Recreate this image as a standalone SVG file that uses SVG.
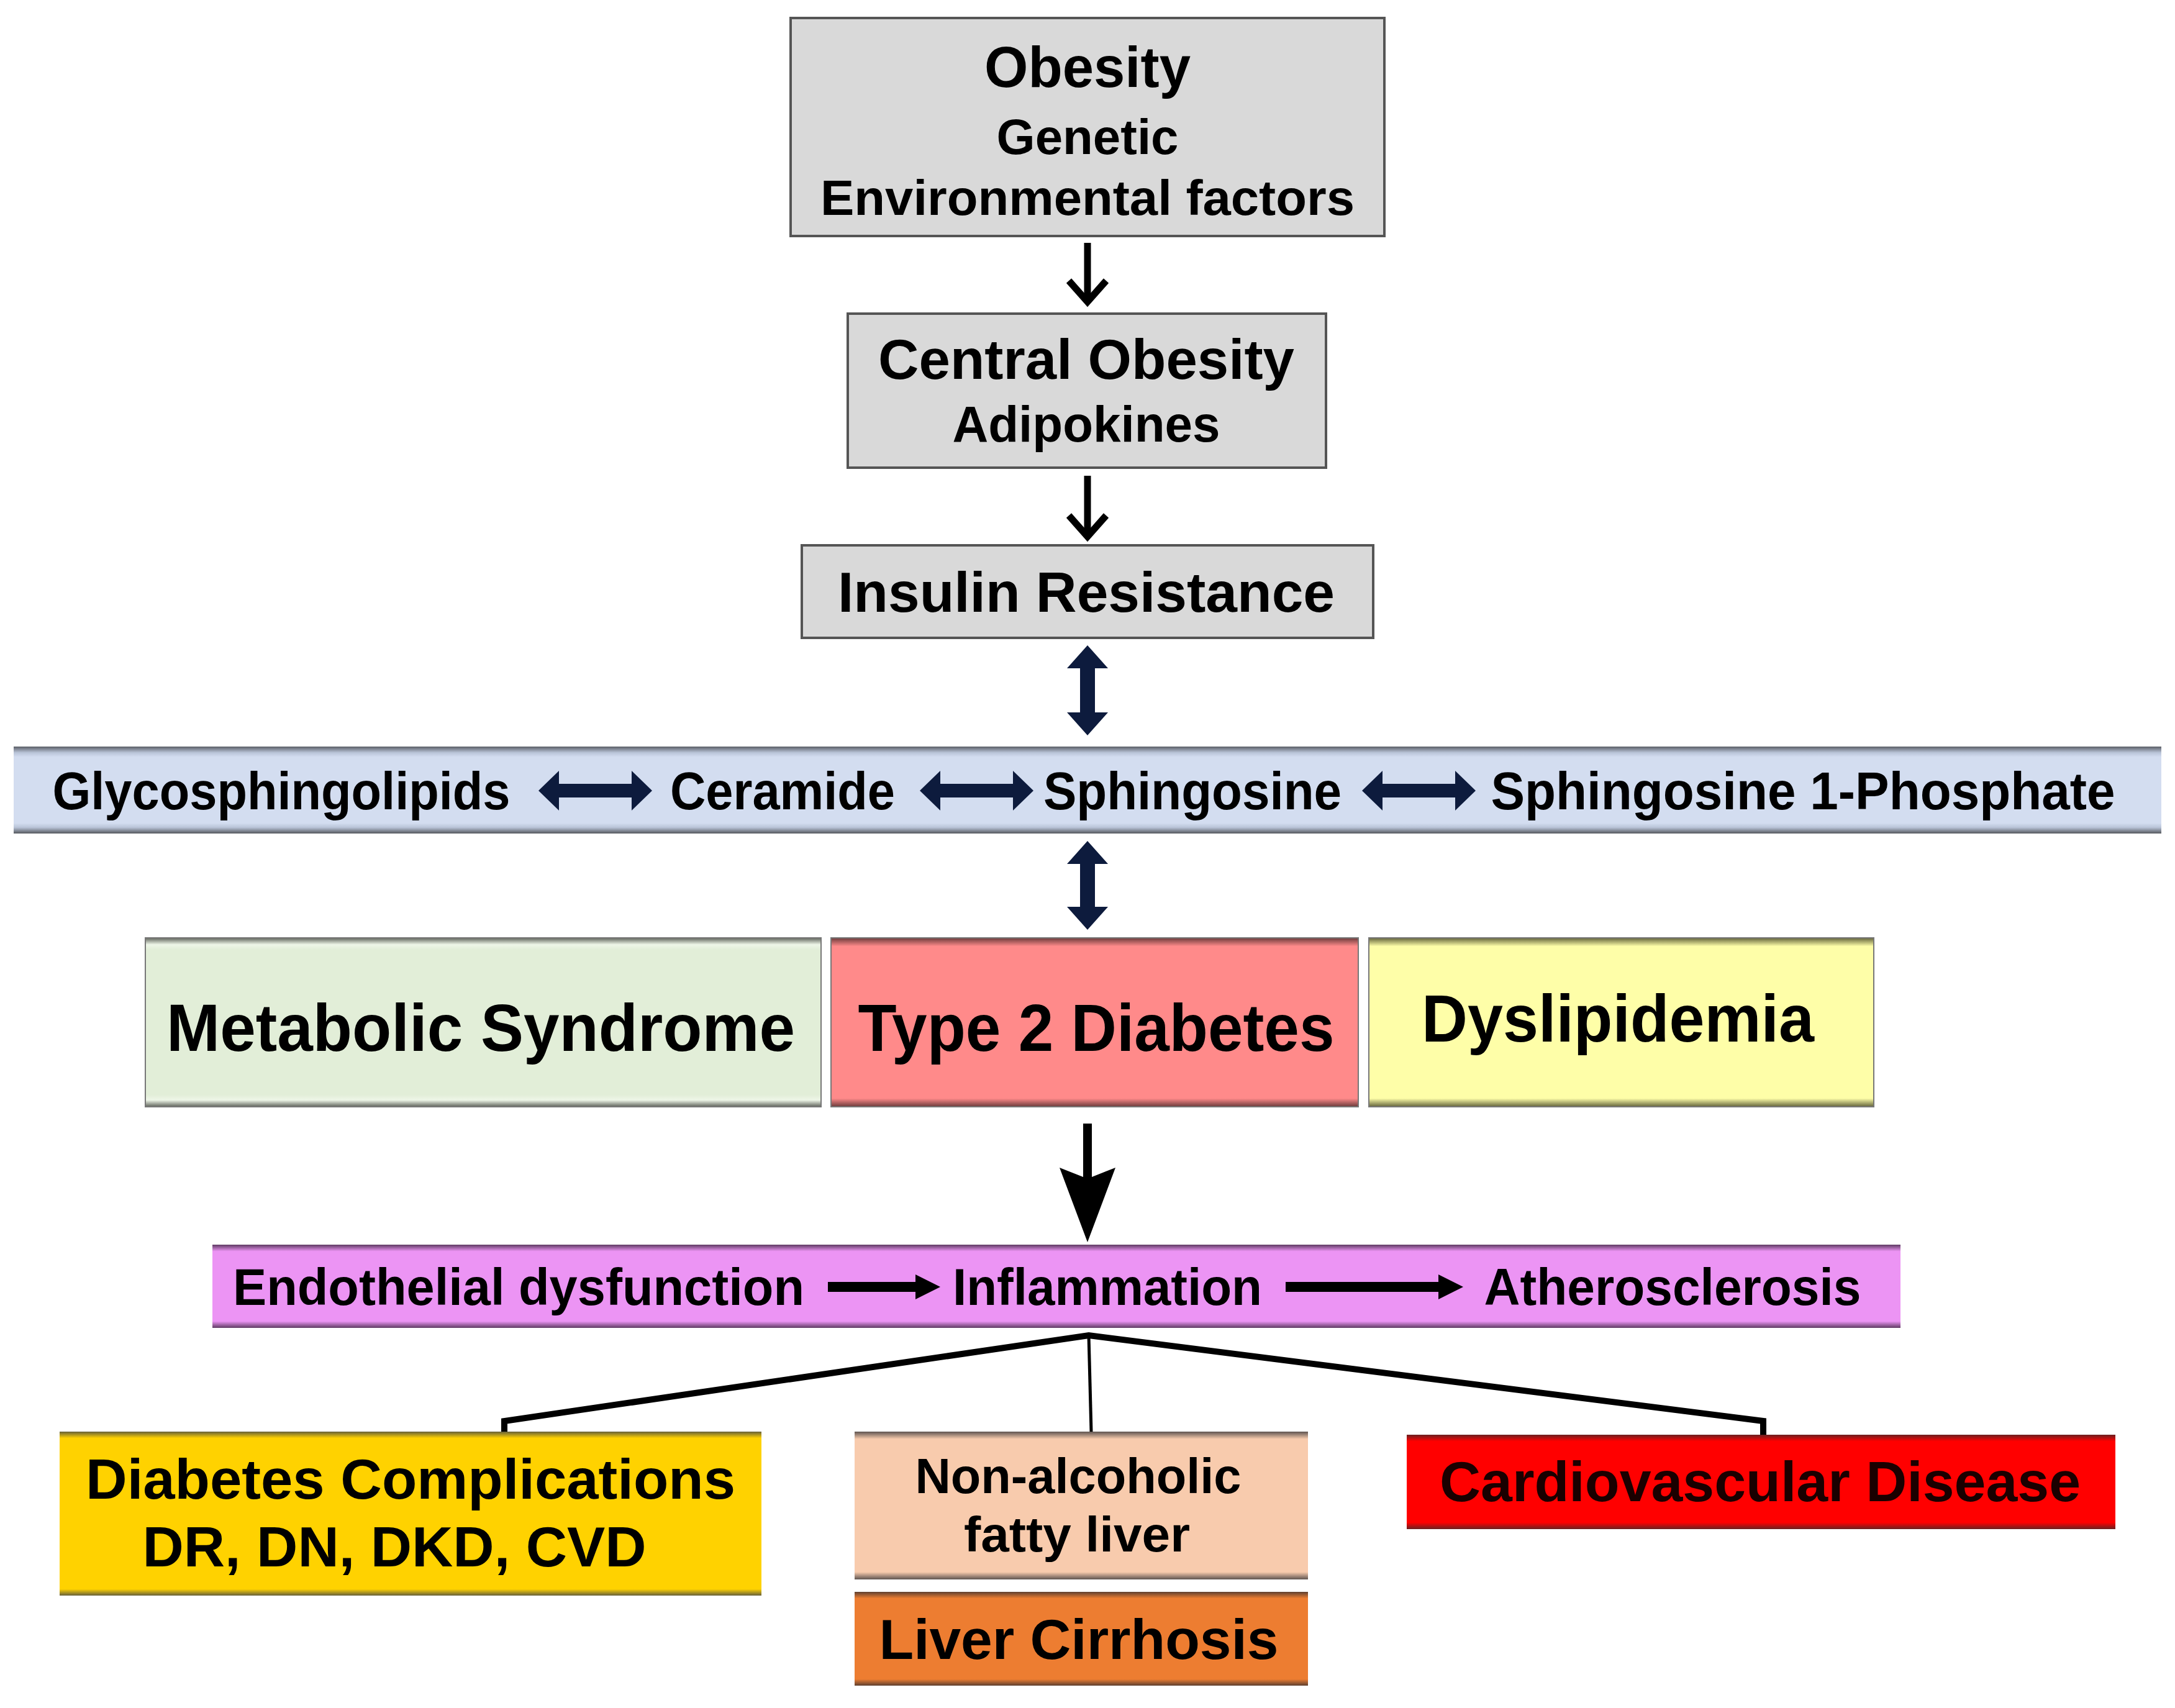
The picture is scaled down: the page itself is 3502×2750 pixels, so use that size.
<svg xmlns="http://www.w3.org/2000/svg" width="3502" height="2750" viewBox="0 0 3502 2750">
<style>
text{font-family:"Liberation Sans",Arial,sans-serif;font-weight:bold;fill:#000;text-anchor:middle}
.gray{fill:#d9d9d9;stroke:#555;stroke-width:4}
.thin{fill:none;stroke:#000;stroke-width:11}
.tree{fill:none;stroke:#000;stroke-width:10}
.navy{fill:#0d1b3d}
.blk{fill:#000}
</style>
<defs>
<linearGradient id="gBlue" x1="0" y1="0" x2="0" y2="1"><stop offset="0" stop-color="#5a5e66"/><stop offset="0.07" stop-color="#b9c4d8"/><stop offset="0.12" stop-color="#d3ddf0"/><stop offset="0.88" stop-color="#d3ddf0"/><stop offset="0.93" stop-color="#b9c4d8"/><stop offset="1" stop-color="#55585e"/></linearGradient>
<linearGradient id="gGreen" x1="0" y1="0" x2="0" y2="1"><stop offset="0" stop-color="#5e625a"/><stop offset="0.04" stop-color="#eef6e8"/><stop offset="0.07" stop-color="#e2eed8"/><stop offset="0.93" stop-color="#e2eed8"/><stop offset="0.96" stop-color="#eef6e8"/><stop offset="1" stop-color="#5e625a"/></linearGradient>
<linearGradient id="gPink" x1="0" y1="0" x2="0" y2="1"><stop offset="0" stop-color="#6a3a3a"/><stop offset="0.05" stop-color="#ff8a8a"/><stop offset="0.95" stop-color="#ff8a8a"/><stop offset="1" stop-color="#6a3a3a"/></linearGradient>
<linearGradient id="gYellow" x1="0" y1="0" x2="0" y2="1"><stop offset="0" stop-color="#62623a"/><stop offset="0.05" stop-color="#fefea8"/><stop offset="0.95" stop-color="#fefea8"/><stop offset="1" stop-color="#62623a"/></linearGradient>
<linearGradient id="gViolet" x1="0" y1="0" x2="0" y2="1"><stop offset="0" stop-color="#5e3a62"/><stop offset="0.08" stop-color="#ec94f4"/><stop offset="0.92" stop-color="#ec94f4"/><stop offset="1" stop-color="#5e3a62"/></linearGradient>
<linearGradient id="gGold" x1="0" y1="0" x2="0" y2="1"><stop offset="0" stop-color="#66603a"/><stop offset="0.04" stop-color="#ffd200"/><stop offset="0.96" stop-color="#ffd200"/><stop offset="1" stop-color="#66603a"/></linearGradient>
<linearGradient id="gPeach" x1="0" y1="0" x2="0" y2="1"><stop offset="0" stop-color="#5e5450"/><stop offset="0.05" stop-color="#f8cbad"/><stop offset="0.95" stop-color="#f8cbad"/><stop offset="1" stop-color="#5e5450"/></linearGradient>
<linearGradient id="gOrange" x1="0" y1="0" x2="0" y2="1"><stop offset="0" stop-color="#5e4030"/><stop offset="0.07" stop-color="#ed7d31"/><stop offset="0.93" stop-color="#ed7d31"/><stop offset="1" stop-color="#5e4030"/></linearGradient>
<linearGradient id="gRed" x1="0" y1="0" x2="0" y2="1"><stop offset="0" stop-color="#6a2020"/><stop offset="0.07" stop-color="#ff0000"/><stop offset="0.93" stop-color="#ff0000"/><stop offset="1" stop-color="#6a2020"/></linearGradient>
<marker id="vhead" markerUnits="userSpaceOnUse" markerWidth="80" markerHeight="80" refX="40" refY="40" orient="auto" viewBox="0 0 80 80">
<path d="M6,10 L40,40 L6,70" fill="none" stroke="#000" stroke-width="11"/>
</marker>
</defs>
<rect width="3502" height="2750" fill="#fff"/>

<g id="obesity">
<rect class="gray" x="1273" y="29" width="956" height="351"/>
<text x="1751" y="140" font-size="92" textLength="332" lengthAdjust="spacingAndGlyphs">Obesity</text>
<text x="1751" y="248" font-size="80" textLength="293" lengthAdjust="spacingAndGlyphs">Genetic</text>
<text x="1751" y="346" font-size="80" textLength="860" lengthAdjust="spacingAndGlyphs">Environmental factors</text>
</g>
<g id="central-obesity">
<rect class="gray" x="1365" y="505" width="770" height="248"/>
<text x="1749" y="610" font-size="90" textLength="670" lengthAdjust="spacingAndGlyphs">Central Obesity</text>
<text x="1749" y="711" font-size="82" textLength="431" lengthAdjust="spacingAndGlyphs">Adipokines</text>
</g>
<g id="insulin-resistance">
<rect class="gray" x="1291" y="878" width="920" height="149"/>
<text x="1749" y="985" font-size="90" textLength="800" lengthAdjust="spacingAndGlyphs">Insulin Resistance</text>
</g>
<g id="sphingolipids">
<rect x="22" y="1202" width="3458" height="140" fill="url(#gBlue)"/>
<text x="453" y="1303" font-size="86" textLength="737" lengthAdjust="spacingAndGlyphs">Glycosphingolipids</text>
<text x="1260" y="1303" font-size="86" textLength="362" lengthAdjust="spacingAndGlyphs">Ceramide</text>
<text x="1920" y="1303" font-size="86" textLength="480" lengthAdjust="spacingAndGlyphs">Sphingosine</text>
<text x="2903" y="1303" font-size="86" textLength="1005" lengthAdjust="spacingAndGlyphs">Sphingosine 1-Phosphate</text>
<path class="navy" d="M867,1273 L900,1241 V1262 H1017 V1241 L1050,1273 L1017,1305 V1284 H900 V1305 Z"/>
<path class="navy" d="M1481,1273 L1514,1241 V1262 H1631 V1241 L1664,1273 L1631,1305 V1284 H1514 V1305 Z"/>
<path class="navy" d="M2193,1273 L2226,1241 V1262 H2343 V1241 L2376,1273 L2343,1305 V1284 H2226 V1305 Z"/>
</g>
<g id="metabolic-syndrome">
<rect x="234" y="1510" width="1088" height="272" fill="url(#gGreen)" stroke="#777" stroke-width="2"/>
<text x="774" y="1692" font-size="108" textLength="1012" lengthAdjust="spacingAndGlyphs">Metabolic Syndrome</text>
</g>
<g id="type2-diabetes">
<rect x="1338" y="1510" width="849" height="272" fill="url(#gPink)" stroke="#777" stroke-width="2"/>
<text x="1765" y="1692" font-size="108" textLength="767" lengthAdjust="spacingAndGlyphs">Type 2 Diabetes</text>
</g>
<g id="dyslipidemia">
<rect x="2204" y="1510" width="813" height="272" fill="url(#gYellow)" stroke="#777" stroke-width="2"/>
<text x="2605" y="1677" font-size="108" textLength="632" lengthAdjust="spacingAndGlyphs">Dyslipidemia</text>
</g>
<g id="endothelial">
<rect x="342" y="2004" width="2718" height="134" fill="url(#gViolet)"/>
<text x="835" y="2101" font-size="84" textLength="920" lengthAdjust="spacingAndGlyphs">Endothelial dysfunction</text>
<text x="1783" y="2101" font-size="84" textLength="498" lengthAdjust="spacingAndGlyphs">Inflammation</text>
<text x="2693" y="2101" font-size="84" textLength="607" lengthAdjust="spacingAndGlyphs">Atherosclerosis</text>
<path class="blk" d="M1333,2064 H1474 V2052 L1514,2072 L1474,2092 V2080 H1333 Z"/>
<path class="blk" d="M2070,2064 H2316 V2052 L2356,2072 L2316,2092 V2080 H2070 Z"/>
</g>
<g id="diabetes-complications">
<rect x="96" y="2305" width="1130" height="264" fill="url(#gGold)"/>
<text x="661" y="2413" font-size="90" textLength="1046" lengthAdjust="spacingAndGlyphs">Diabetes Complications</text>
<text x="635" y="2522" font-size="90" textLength="811" lengthAdjust="spacingAndGlyphs">DR, DN, DKD, CVD</text>
</g>
<g id="nafld">
<rect x="1376" y="2305" width="730" height="238" fill="url(#gPeach)"/>
<text x="1736" y="2404" font-size="80" textLength="525" lengthAdjust="spacingAndGlyphs">Non-alcoholic</text>
<text x="1734" y="2498" font-size="80" textLength="364" lengthAdjust="spacingAndGlyphs">fatty liver</text>
</g>
<g id="liver-cirrhosis">
<rect x="1376" y="2563" width="730" height="151" fill="url(#gOrange)"/>
<text x="1737" y="2671" font-size="90" textLength="643" lengthAdjust="spacingAndGlyphs">Liver Cirrhosis</text>
</g>
<g id="cardiovascular-disease">
<rect x="2265" y="2310" width="1141" height="152" fill="url(#gRed)"/>
<text x="2834" y="2417" font-size="90" textLength="1032" lengthAdjust="spacingAndGlyphs" style="fill:#1a0000">Cardiovascular Disease</text>
</g>

<g id="connectors">
<line class="thin" x1="1751" y1="391" x2="1751" y2="486" marker-end="url(#vhead)"/>
<line class="thin" x1="1751" y1="766" x2="1751" y2="864" marker-end="url(#vhead)"/>
<path class="navy" d="M1751,1039 L1784,1076 H1763 V1147 H1784 L1751,1184 L1718,1147 H1739 V1076 H1718 Z"/>
<path class="navy" d="M1751,1354 L1784,1391 H1763 V1460 H1784 L1751,1497 L1718,1460 H1739 V1391 H1718 Z"/>
<path class="blk" d="M1744,1809 H1758 V1895 L1796,1880 L1751,2000 L1706,1880 L1744,1895 Z"/>
<path class="tree" d="M812,2305 V2288 L1753,2150 L2839,2288 V2310"/>
<line x1="1753" y1="2150" x2="1757" y2="2305" stroke="#000" stroke-width="5"/>
</g>
</svg>
